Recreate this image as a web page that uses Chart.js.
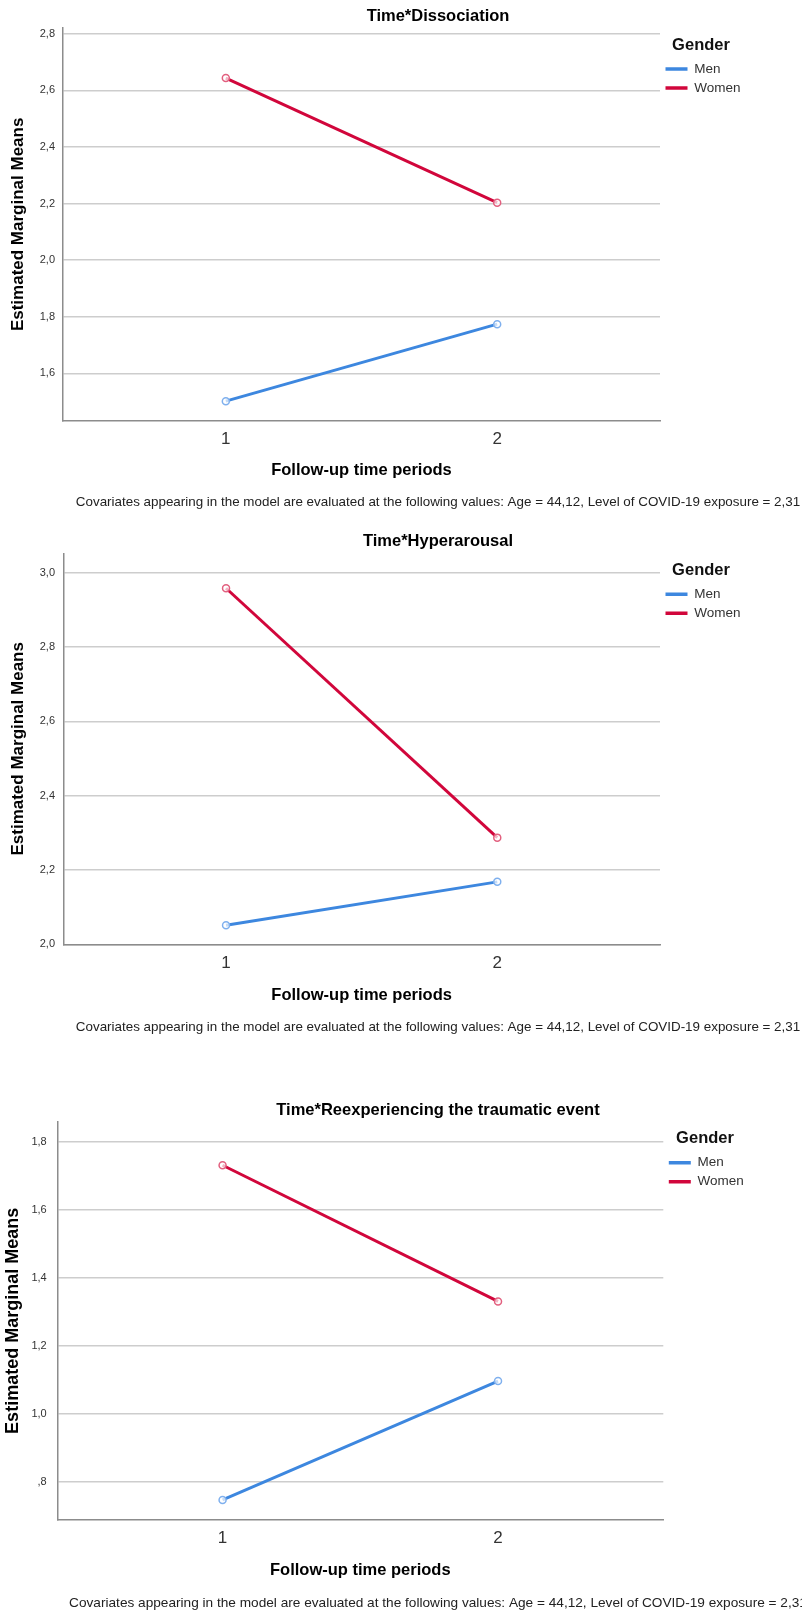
<!DOCTYPE html>
<html>
<head>
<meta charset="utf-8">
<title>Estimated Marginal Means by gender and follow-up period</title>
<script src="https://cdn.jsdelivr.net/npm/chart.js@4.4.1/dist/chart.umd.min.js"></script>
<style>
  html, body { margin: 0; padding: 0; background: #fff; overflow: hidden; }
  body { width: 802px; height: 1613px; position: relative; }
  canvas { position: absolute; left: 0; }
</style>
</head>
<body>
<canvas id="dissociation" width="876" height="520" style="top:0px"></canvas>
<canvas id="hyperarousal" width="876" height="520" style="top:525px"></canvas>
<canvas id="reexperiencing" width="876" height="519" style="top:1094px"></canvas>
<script>
// values
const periods = [1, 2];
const genders = ["Men", "Women"];

const menDissociation = [1.502, 1.774];
const womenDissociation = [2.643, 2.203];
const menHyperarousal = [2.051, 2.168];
const womenHyperarousal = [2.958, 2.287];
const menReexperiencing = [0.748, 1.097];
const womenReexperiencing = [1.731, 1.331];

const yTicksDissociation = [1.6, 1.8, 2.0, 2.2, 2.4, 2.6, 2.8];
const yTicksHyperarousal = [2.0, 2.2, 2.4, 2.6, 2.8, 3.0];
const yTicksReexperiencing = [0.8, 1.0, 1.2, 1.4, 1.6, 1.8];

const covariateNote = "Covariates appearing in the model are evaluated at the following values: Age = 44,12, Level of COVID-19 exposure = 2,31";

const FONT = "'Liberation Sans', Arial, Helvetica, sans-serif";
const MEN_COLOR = "#3d87df";
const WOMEN_COLOR = "#d1063b";

// SPSS writes decimals with a comma and drops the leading zero
function spssNumber(v) {
  return v.toFixed(1).replace(".", ",").replace(/^0,/, ",");
}

function boldFont(size) {
  return { family: FONT, size: size, weight: "bold" };
}

function drawPanel(id, p) {
  const toPoints = (arr) => arr.map((v, i) => ({ x: periods[i], y: v }));

  new Chart(document.getElementById(id), {
    type: "line",
    data: {
      datasets: [
        {
          label: genders[0],
          data: toPoints(p.men),
          borderColor: MEN_COLOR,
          backgroundColor: MEN_COLOR,
          borderWidth: 3,
          pointRadius: 3.5,
          pointBorderWidth: 1.5,
          pointBorderColor: "#7fb0ee",
          pointBackgroundColor: "rgba(255,255,255,0.7)",
        },
        {
          label: genders[1],
          data: toPoints(p.women),
          borderColor: WOMEN_COLOR,
          backgroundColor: WOMEN_COLOR,
          borderWidth: 3,
          pointRadius: 3.5,
          pointBorderWidth: 1.5,
          pointBorderColor: "#e2607f",
          pointBackgroundColor: "rgba(255,255,255,0.7)",
        },
      ],
    },
    options: {
      responsive: false,
      animation: false,
      layout: { padding: 0 },
      plugins: {
        title: {
          display: true,
          text: p.title,
          color: "#000",
          font: boldFont(16.5),
          padding: { top: p.titleTop, bottom: p.titleBottom },
        },
        subtitle: {
          display: true,
          position: "bottom",
          text: covariateNote,
          color: "#222",
          font: { family: FONT, size: p.noteSize },
          padding: { top: 0, bottom: p.noteBottom },
        },
        legend: {
          position: "right",
          align: "start",
          fullSize: false,
          maxWidth: p.legendWidth,
          title: {
            display: true,
            text: "Gender",
            color: "#111",
            font: boldFont(16.5),
            padding: { top: p.legendTop, bottom: p.legendGap },
          },
          labels: {
            usePointStyle: true,
            pointStyle: "line",
            pointStyleWidth: 22,
            padding: 5.5,
            color: "#333",
            font: { family: FONT, size: 13.5 },
            generateLabels(chart) {
              const items = Chart.defaults.plugins.legend.labels.generateLabels(chart);
              return items.map((item) => {
                const ds = chart.data.datasets[item.datasetIndex];
                return Object.assign(item, { strokeStyle: ds.borderColor, lineWidth: 3.5, pointStyle: "line" });
              });
            },
          },
        },
        tooltip: { enabled: false },
      },
      scales: {
        x: {
          type: "linear",
          min: 0.4,
          max: 2.6,
          afterBuildTicks(scale) {
            scale.ticks = periods.map((v) => ({ value: v }));
          },
          afterFit(scale) {
            scale.height = p.xHeight;
          },
          ticks: {
            callback: (v) => String(v),
            color: "#333",
            font: { family: FONT, size: 17 },
            padding: p.xTickPad,
          },
          grid: { display: false, drawTicks: false },
          border: { display: true, color: "#8c8c8c", width: 1.5 },
          title: {
            display: true,
            text: "Follow-up time periods",
            color: "#000",
            font: boldFont(16.5),
            padding: { top: 0, bottom: p.xTitleBottom },
          },
        },
        y: {
          type: "linear",
          min: p.yMin,
          max: p.yMax,
          afterBuildTicks(scale) {
            scale.ticks = p.yTicks.map((v) => ({ value: v }));
          },
          afterFit(scale) {
            scale.width = p.left;
          },
          ticks: {
            callback: (v) => spssNumber(v),
            color: "#333",
            font: { family: FONT, size: 11 },
            padding: p.yTickPad,
          },
          grid: { color: "#cdcdcd", lineWidth: 1.5, drawTicks: false },
          border: { display: true, color: "#8c8c8c", width: 1.5 },
          title: {
            display: true,
            text: "Estimated Marginal Means",
            color: "#000",
            font: boldFont(p.yTitleSize),
            padding: { top: p.yTitlePad, bottom: 0 },
          },
        },
        // empty box on the far right so the plot area stops where SPSS put it
        spacer: {
          type: "linear",
          position: "right",
          weight: 2000,
          display: true,
          grid: { display: false, drawTicks: false },
          border: { display: false },
          ticks: { display: false },
          afterFit(scale) {
            scale.width = p.spacer;
          },
        },
      },
    },
  });
}

drawPanel("dissociation", {
  title: "Time*Dissociation",
  men: menDissociation,
  women: womenDissociation,
  yTicks: yTicksDissociation,
  yMin: 1.433, yMax: 2.82,
  titleTop: 6.8, titleBottom: 1.4,
  noteSize: 13.4, noteBottom: 9.26,
  xHeight: 73.96, xTickPad: 8.3, xTitleBottom: 14.06,
  left: 63, yTickPad: 8, yTitlePad: 8.1, yTitleSize: 17,
  legendTop: 9, legendGap: 0,
  legendWidth: 82, spacer: 134,
});

drawPanel("hyperarousal", {
  title: "Time*Hyperarousal",
  men: menHyperarousal,
  women: womenHyperarousal,
  yTicks: yTicksHyperarousal,
  yMin: 2.0, yMax: 3.052,
  titleTop: 6.8, titleBottom: 1.7,
  noteSize: 13.4, noteBottom: 9.96,
  xHeight: 74.66, xTickPad: 9.2, xTitleBottom: 14.06,
  left: 63.3, yTickPad: 8.3, yTitlePad: 8.1, yTitleSize: 17,
  legendTop: 9, legendGap: 0,
  legendWidth: 82, spacer: 134,
});

drawPanel("reexperiencing", {
  title: "Time*Reexperiencing the traumatic event",
  men: menReexperiencing,
  women: womenReexperiencing,
  yTicks: yTicksReexperiencing,
  yMin: 0.689, yMax: 1.859,
  titleTop: 6.8, titleBottom: 1.1,
  noteSize: 13.65, noteBottom: 1.51,
  xHeight: 75.11, xTickPad: 8.5, xTitleBottom: 15.2,
  left: 57.3, yTickPad: 10.6, yTitlePad: 2.5, yTitleSize: 18,
  legendTop: 9, legendGap: 0,
  legendWidth: 83.4, spacer: 129.3,
});
</script>
</body>
</html>
